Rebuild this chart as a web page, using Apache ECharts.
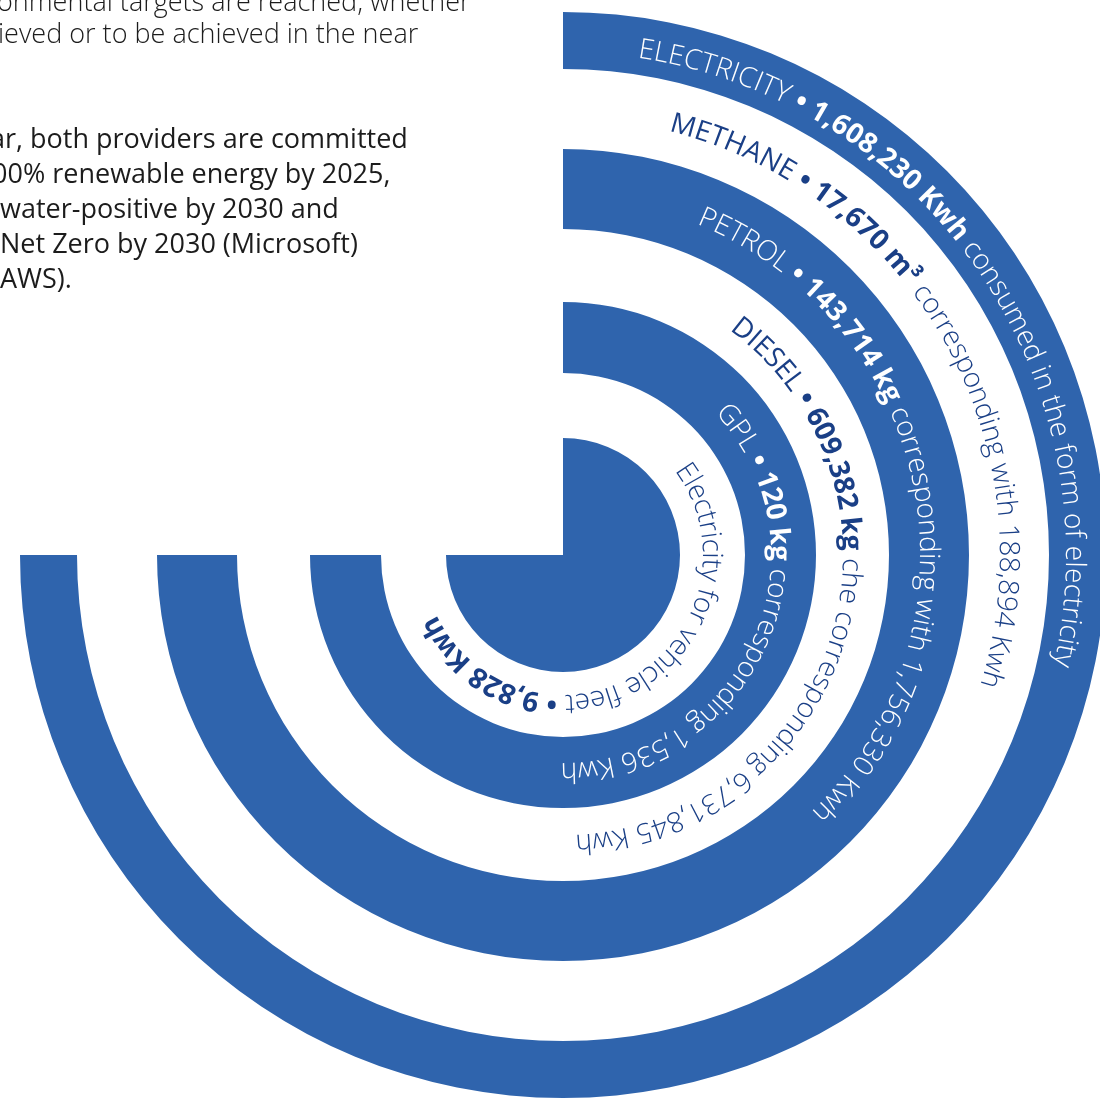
<!DOCTYPE html>
<html><head><meta charset="utf-8">
<script src="https://cdn.jsdelivr.net/npm/echarts@6/dist/echarts.min.js"></script>
<style>html,body{margin:0;padding:0;background:#fff;overflow:hidden}#main{width:1100px;height:1099px}</style>
</head><body><div id="main"></div>
<script>
// ---- data ----
const categories = ['ELECTRICITY', 'METHANE', 'PETROL', 'DIESEL', 'GPL', 'Electricity for vehicle fleet'];
const quantities = ['1,608,230 Kwh', '17,670 m³', '143,714 kg', '609,382 kg', '120 kg', '9,828 Kwh'];
const descriptions = ['consumed in the form of electricity', 'corresponding with 188,894 Kwh', 'corresponding with 1,756,330 Kwh', 'che corresponding 6,731,845 Kwh', 'corresponding 1,536 Kwh', ''];
const ringNames = ['Electricity', 'Petrol', 'GPL', 'Core'];
const ringSweep = [270, 270, 270, 270];
const paragraphLines = [
  'onmental targets are reached, whether',
  'ieved or to be achieved in the near',
  'ar, both providers are committed',
  '00% renewable energy by 2025,',
  'water-positive by 2030 and',
  'Net Zero by 2030 (Microsoft)',
  'AWS).'
];

// ---- layout / style ----
const BLUE = '#2f64ad', NAVY = '#1a3f86', WHITE = '#ffffff';
const FONT = '"Open Sans", "Noto Sans", sans-serif';
const ringBands = [[486, 543], [326, 406], [182, 253], [0, 117]];
const textRadius = [511, 445, 365, 288, 216, 148];
const textStart = [8.5, 14, 22, 36.5, 47, 53];
const onBlue = [true, false, true, false, true, false];
const FS = 28, SPACING = 0.3;
const paraLayout = [
  {x: -3, y: 3}, {x: -2, y: 35},
  {x: -10, y: 140}, {x: -8, y: 175}, {x: 0, y: 210}, {x: 0, y: 245}, {x: 0, y: 280}
];

const ctx = document.createElement('canvas').getContext('2d');
function fontStr(w, s) { return w + ' ' + s + 'px ' + FONT; }

const glyphs = [];
categories.forEach((cat, i) => {
  const col = onBlue[i] ? WHITE : NAVY;
  let segs;
  if (i === 5) {
    segs = [[cat, 300], [' \u2022 ', 700], [quantities[i], 700]];
  } else {
    segs = [[cat, onBlue[i] ? 300 : 400], [' \u2022 ', 700], [quantities[i], 700], [' ' + descriptions[i], 300]];
  }
  const R = textRadius[i];
  let cum = 0;
  segs.forEach(([txt, w]) => {
    const f = fontStr(w, FS);
    ctx.font = f;
    for (const ch of txt) {
      const cw = ctx.measureText(ch).width + SPACING;
      const ang = textStart[i] + (cum + cw / 2) / R * 180 / Math.PI;
      cum += cw;
      if (ch !== ' ') glyphs.push({ch, r: R, a: ang, font: f, color: col});
    }
  });
});

const chart = echarts.init(document.getElementById('main'), null, {renderer: 'canvas'});
chart.setOption({
  animation: false,
  backgroundColor: '#ffffff',
  polar: {center: [563, 555], radius: 543},
  radiusAxis: {type: 'value', min: 0, max: 543, show: false},
  angleAxis: {type: 'value', min: 0, max: 360, startAngle: 90, clockwise: true, show: false},
  graphic: paragraphLines.map((t, i) => ({
    type: 'text', x: paraLayout[i].x, y: paraLayout[i].y, silent: true,
    style: {text: t, font: fontStr(i < 2 ? 300 : 400, 27), fill: '#1c1c1c', verticalAlign: 'middle', align: 'left'}
  })),
  series: [
    {
      type: 'custom', coordinateSystem: 'polar', silent: true, clip: false,
      dimensions: ['r0', 'r1', 'sweep'],
      encode: {radius: 1, angle: 2},
      data: ringNames.map((n, i) => ({name: n, value: [ringBands[i][0], ringBands[i][1], ringSweep[i]]})),
      renderItem(params, api) {
        const r0 = api.value(0), r1 = api.value(1), sweep = api.value(2);
        const c = api.coord([0, 0]);
        const p0 = api.coord([r0, 0]), p1 = api.coord([r1, 0]), pe = api.coord([r1, sweep]);
        const rr0 = Math.hypot(p0[0] - c[0], p0[1] - c[1]);
        const rr1 = Math.hypot(p1[0] - c[0], p1[1] - c[1]);
        const s = Math.atan2(p1[1] - c[1], p1[0] - c[0]);
        let e = Math.atan2(pe[1] - c[1], pe[0] - c[0]);
        while (e <= s + 1e-6) e += Math.PI * 2;
        return {type: 'sector', shape: {cx: c[0], cy: c[1], r0: rr0, r: rr1, startAngle: s, endAngle: e, clockwise: true}, style: {fill: BLUE}};
      }
    },
    {
      type: 'custom', coordinateSystem: 'polar', silent: true, clip: false, z: 5,
      dimensions: ['radius', 'angle', 'idx'],
      encode: {radius: 0, angle: 1},
      data: glyphs.map((g, i) => [g.r, g.a, i]),
      renderItem(params, api) {
        const g = glyphs[api.value(2)];
        const p = api.coord([api.value(0), api.value(1)]);
        return {type: 'text', x: p[0], y: p[1], rotation: -api.value(1) * Math.PI / 180,
          style: {text: g.ch, font: g.font, fill: g.color, align: 'center', verticalAlign: 'middle'}};
      }
    }
  ]
});
</script></body></html>
